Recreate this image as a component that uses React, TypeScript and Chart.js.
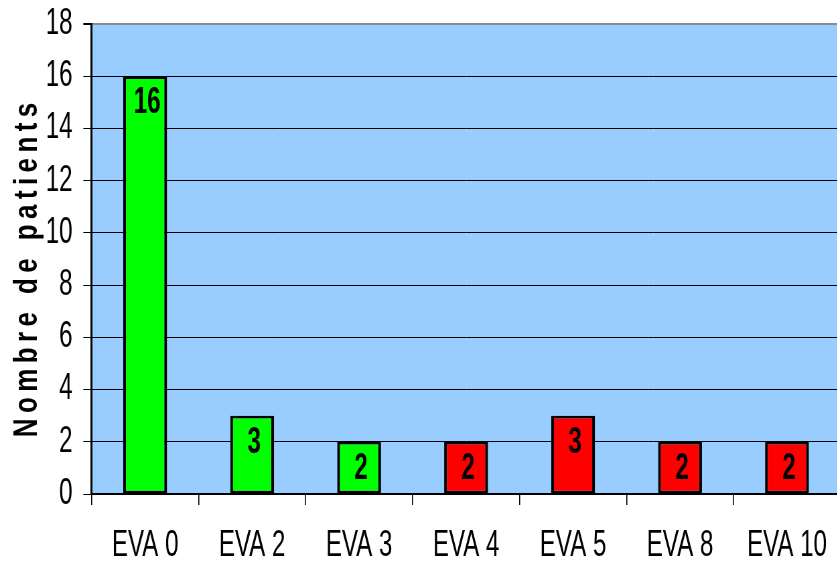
import React, { useEffect, useRef } from 'react';
import { Chart, registerables } from 'chart.js';

Chart.register(...registerables);

const categories = ['EVA 0', 'EVA 2', 'EVA 3', 'EVA 4', 'EVA 5', 'EVA 8', 'EVA 10'];
const patients = [16, 3, 2, 2, 3, 2, 2];
const barColors = ['#00FF00', '#00FF00', '#00FF00', '#FF0000', '#FF0000', '#FF0000', '#FF0000'];
const yTitle = 'Nombre de patients';
const yMin = 0;
const yMax = 18;
const yStep = 2;

const SX = 0.67;
const CSS_W = 850;
const W = Math.round(CSS_W / SX);
const H = 563;
const FONT = '"Liberation Sans", Arial, sans-serif';

const bgPlugin = {
  id: 'plotBg',
  beforeDraw(chart: any) {
    const { ctx, chartArea } = chart;
    ctx.save();
    ctx.fillStyle = '#99CCFF';
    ctx.fillRect(chartArea.left, chartArea.top, chartArea.right - chartArea.left, chartArea.bottom - chartArea.top);
    ctx.restore();
  },
};

const labelPlugin = {
  id: 'barLabels',
  afterDatasetsDraw(chart: any) {
    const ctx = chart.ctx;
    const meta = chart.getDatasetMeta(0);
    ctx.save();
    ctx.font = `bold 36px ${FONT}`;
    ctx.fillStyle = '#000';
    ctx.textAlign = 'center';
    ctx.textBaseline = 'middle';
    meta.data.forEach((el: any, i: number) => {
      ctx.fillText(String(chart.data.datasets[0].data[i]), el.x + 3, el.y + 27);
    });
    ctx.restore();
  },
};

const titlePlugin = {
  id: 'yTitle',
  afterDraw(chart: any) {
    const ctx = chart.ctx;
    ctx.save();
    ctx.translate(27.5 / SX, 270);
    ctx.rotate(-Math.PI / 2);
    ctx.scale(1, 1.95);
    ctx.font = `bold 26px ${FONT}`;
    (ctx as any).letterSpacing = '5.4px';
    ctx.textAlign = 'center';
    ctx.textBaseline = 'middle';
    ctx.fillStyle = '#000';
    ctx.fillText(yTitle, 2.7, 0);
    ctx.restore();
  },
};

export default function App() {
  const ref = useRef<HTMLCanvasElement>(null);
  useEffect(() => {
    const canvas = ref.current!;
    const chart = new Chart(canvas, {
      type: 'bar',
      data: {
        labels: categories,
        datasets: [
          {
            data: patients,
            backgroundColor: barColors,
            borderColor: '#000',
            borderWidth: { left: 4.2, right: 4.2, top: 2.8, bottom: 2.8 },
            borderSkipped: false,
            barPercentage: 0.41,
            categoryPercentage: 1,
          },
        ],
      },
      options: {
        responsive: false,
        animation: false,
        devicePixelRatio: 1,
        layout: { padding: { left: 0, right: W - 840.7 / SX, top: 24, bottom: 0 } },
        plugins: {
          legend: { display: false },
          tooltip: { enabled: false },
          title: { display: false },
        },
        scales: {
          x: {
            offset: true,
            grid: {
              display: true,
              drawOnChartArea: false,
              drawTicks: true,
              tickLength: 11,
              color: '#000',
              lineWidth: 1.6,
              offset: true,
            },
            border: { display: true, color: '#000', width: 1.5 },
            ticks: {
              color: '#000',
              font: { family: FONT, size: 36 },
              padding: 19,
              maxRotation: 0,
              autoSkip: false,
            },
            afterFit: (s: any) => {
              s.height = 69;
              s.paddingLeft = 0;
              s.paddingRight = 0;
            },
          },
          y: {
            min: yMin,
            max: yMax,
            grid: {
              color: (c: any) => (c.tick && c.tick.value === yMax ? '#8c8c8c' : '#000'),
              lineWidth: (c: any) => (c.tick && c.tick.value === yMax ? 2 : 1),
              tickColor: '#000',
              tickLength: 12.5,
              drawTicks: true,
            },
            border: { display: true, color: '#000', width: 3 },
            ticks: {
              stepSize: yStep,
              color: '#000',
              font: { family: FONT, size: 36 },
              padding: 16,
            },
            afterFit: (s: any) => {
              s.width = 91.7 / SX;
              s.paddingTop = 0;
              s.paddingBottom = 0;
            },
          },
        },
      },
      plugins: [bgPlugin, labelPlugin, titlePlugin],
    } as any);
    return () => chart.destroy();
  }, []);
  return (
    <div
      style={{
        position: 'absolute',
        left: 0,
        top: 0,
        width: 837,
        height: 563,
        overflow: 'hidden',
        background: '#fff',
      }}
    >
      <canvas
        ref={ref}
        width={W}
        height={H}
        style={{ width: `${W * SX}px`, height: `${H}px`, display: 'block' }}
      />
    </div>
  );
}
